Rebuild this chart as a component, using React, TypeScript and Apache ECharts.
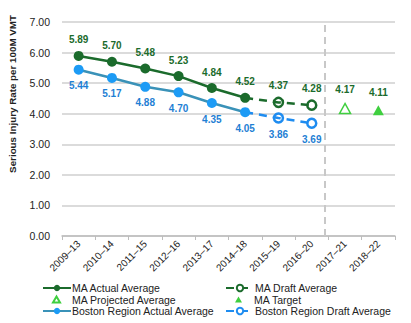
import React, { useEffect, useRef } from "react";
import * as echarts from "echarts";

const periods = [
  "2009–13", "2010–14", "2011–15", "2012–16", "2013–17",
  "2014–18", "2015–19", "2016–20", "2017–21", "2018–22",
];
const maActual = [5.89, 5.70, 5.48, 5.23, 4.84, 4.52];
const maDraft = [4.37, 4.28];
const maProjected = 4.17;
const maTarget = 4.11;
const bostonActual = [5.44, 5.17, 4.88, 4.70, 4.35, 4.05];
const bostonDraft = [3.86, 3.69];
const yTicks = [0, 1, 2, 3, 4, 5, 6, 7];
const yTitle = "Serious Injury Rate per 100M VMT";

const DARK_GREEN = "#1b6b2c";
const LIGHT_GREEN = "#3fcf3f";
const BLUE = "#1c9bf5";
const BLUE_LINE = "#3a92b8";
const BLUE_DASH = "#1e8cf0";
const BLUE_LABEL = "#1f7fd4";
const FONT = "Liberation Sans, Arial, sans-serif";

const pad = (n: number) => new Array(n).fill("-");

// legend entries in two columns, three rows; triangle entries get a small icon
const legendLayout = [
  { name: "MA Actual Average", col: 0, row: 0, small: false, hollow: false },
  { name: "MA Draft Average", col: 1, row: 0, small: false, hollow: true },
  { name: "MA Projected Average", col: 0, row: 1, small: true, hollow: false },
  { name: "MA Target", col: 1, row: 1, small: true, hollow: false },
  { name: "Boston Region Actual Average", col: 0, row: 2, small: false, hollow: false },
  { name: "Boston Region Draft Average", col: 1, row: 2, small: false, hollow: true },
];
const colLeft = [34, 217];
const rowTop = [274.5, 286, 297.5];

export default function App() {
  const ref = useRef<HTMLDivElement>(null);
  useEffect(() => {
    if (!ref.current) return;
    const chart = echarts.init(ref.current, undefined, { renderer: "svg" });
    const n = periods.length;
    const lastActual = maActual.length - 1;

    const maDraftData: any[] = [
      ...pad(lastActual),
      { value: maActual[lastActual], symbol: "none", label: { show: false } },
      ...maDraft,
      ...pad(n - lastActual - 1 - maDraft.length),
    ];
    const bosDraftData: any[] = [
      ...pad(lastActual),
      { value: bostonActual[lastActual], symbol: "none", label: { show: false } },
      ...bostonDraft,
      ...pad(n - lastActual - 1 - bostonDraft.length),
    ];
    const labelTop = (color: string) => ({
      show: true,
      position: "top",
      distance: 6,
      color,
      fontWeight: "bold",
      fontSize: 10,
      fontFamily: FONT,
      formatter: (p: any) => Number(p.value).toFixed(2),
    });
    const labelBottom = (color: string) => ({
      ...labelTop(color),
      position: "bottom",
    });

    const legends = legendLayout.map((l) => {
      const item: any = {
        top: rowTop[l.row],
        padding: 0,
        data: [l.name],
      };
      if (l.small) {
        item.left = colLeft[l.col] + 10;
        item.itemWidth = 7;
        item.itemHeight = 6;
        item.textStyle = { fontSize: 10.5, color: "#222", fontFamily: FONT, padding: [0, 0, 0, 7] };
      } else {
        item.left = colLeft[l.col];
        item.itemWidth = 28;
        item.itemHeight = 8;
        item.textStyle = { fontSize: 10.5, color: "#222", fontFamily: FONT, padding: [0, 0, 0, -4] };
        if (l.hollow) item.itemStyle = { color: "#ffffff" };
      }
      return item;
    });

    chart.setOption({
      animation: false,
      textStyle: { fontFamily: FONT },
      grid: { left: 54, right: 8, top: 14, bottom: 87 },
      legend: legends,
      graphic: [
        {
          type: "text",
          left: -1,
          top: 7,
          rotation: Math.PI / 2,
          style: {
            text: yTitle,
            fontSize: 9.8,
            fontWeight: "bold",
            fill: "#222",
            fontFamily: FONT,
          },
        },
      ],
      xAxis: [
        {
          type: "category",
          data: periods,
          boundaryGap: true,
          axisLine: { lineStyle: { color: "#bdbdbd", width: 1.5 } },
          axisTick: { show: true, length: 4, lineStyle: { color: "#bdbdbd" } },
          axisLabel: {
            rotate: 45,
            fontSize: 10,
            color: "#222",
            margin: 6,
            interval: 0,
            fontFamily: FONT,
          },
        },
        {
          type: "value",
          min: -0.5,
          max: 9.5,
          show: false,
        },
      ],
      yAxis: {
        type: "value",
        min: 0,
        max: 7,
        interval: 1,
        axisLabel: {
          fontSize: 10.5,
          color: "#222",
          margin: 12,
          fontFamily: FONT,
          formatter: (v: number) => (yTicks.includes(v) ? v.toFixed(2) : ""),
        },
        splitLine: { lineStyle: { color: "#cfcfcf", width: 1.5 } },
        axisLine: { show: false },
        axisTick: { show: false },
      },
      series: [
        {
          name: "MA Actual Average",
          type: "line",
          data: [...maActual, ...pad(n - maActual.length)],
          symbol: "circle",
          symbolSize: 10,
          color: DARK_GREEN,
          lineStyle: { color: DARK_GREEN, width: 2.5 },
          itemStyle: { color: DARK_GREEN },
          label: labelTop(DARK_GREEN),
          z: 4,
        },
        {
          name: "MA Draft Average",
          type: "line",
          data: maDraftData,
          symbol: "circle",
          symbolSize: 9,
          showSymbol: true,
          color: DARK_GREEN,
          lineStyle: { color: DARK_GREEN, width: 2.5, type: [8, 6] },
          itemStyle: { color: "rgba(255,255,255,0)", borderColor: DARK_GREEN, borderWidth: 2.5 },
          label: labelTop(DARK_GREEN),
          z: 3,
        },
        {
          name: "MA Projected Average",
          type: "scatter",
          data: [...pad(8), maProjected, "-"],
          symbol: "triangle",
          symbolSize: [11, 10],
          itemStyle: { color: "#ffffff", borderColor: LIGHT_GREEN, borderWidth: 1.5, opacity: 1 },
          label: { ...labelTop(DARK_GREEN), distance: 8 },
        },
        {
          name: "MA Target",
          type: "scatter",
          data: [...pad(9), maTarget],
          symbol: "triangle",
          symbolSize: [11, 10],
          itemStyle: { color: LIGHT_GREEN, opacity: 1 },
          label: { ...labelTop(DARK_GREEN), distance: 8 },
        },
        {
          name: "Boston Region Actual Average",
          type: "line",
          data: [...bostonActual, ...pad(n - bostonActual.length)],
          symbol: "circle",
          symbolSize: 10,
          color: BLUE,
          lineStyle: { color: BLUE_LINE, width: 2.5 },
          itemStyle: { color: BLUE },
          label: labelBottom(BLUE_LABEL),
          z: 4,
        },
        {
          name: "Boston Region Draft Average",
          type: "line",
          data: bosDraftData,
          symbol: "circle",
          symbolSize: 9,
          showSymbol: true,
          color: BLUE_DASH,
          lineStyle: { color: BLUE_DASH, width: 2.5, type: [8, 6] },
          itemStyle: { color: "rgba(255,255,255,0)", borderColor: BLUE_DASH, borderWidth: 2.5 },
          label: labelBottom(BLUE_LABEL),
          z: 3,
        },
        {
          name: "divider",
          type: "line",
          xAxisIndex: 1,
          data: [],
          silent: true,
          markLine: {
            symbol: "none",
            silent: true,
            label: { show: false },
            lineStyle: { color: "#c8c8c8", width: 2, type: [7, 5] },
            data: [{ xAxis: 7.4 }],
          },
        },
      ],
    });
    return () => chart.dispose();
  }, []);
  return <div ref={ref} style={{ width: 395, height: 315 }} />;
}
